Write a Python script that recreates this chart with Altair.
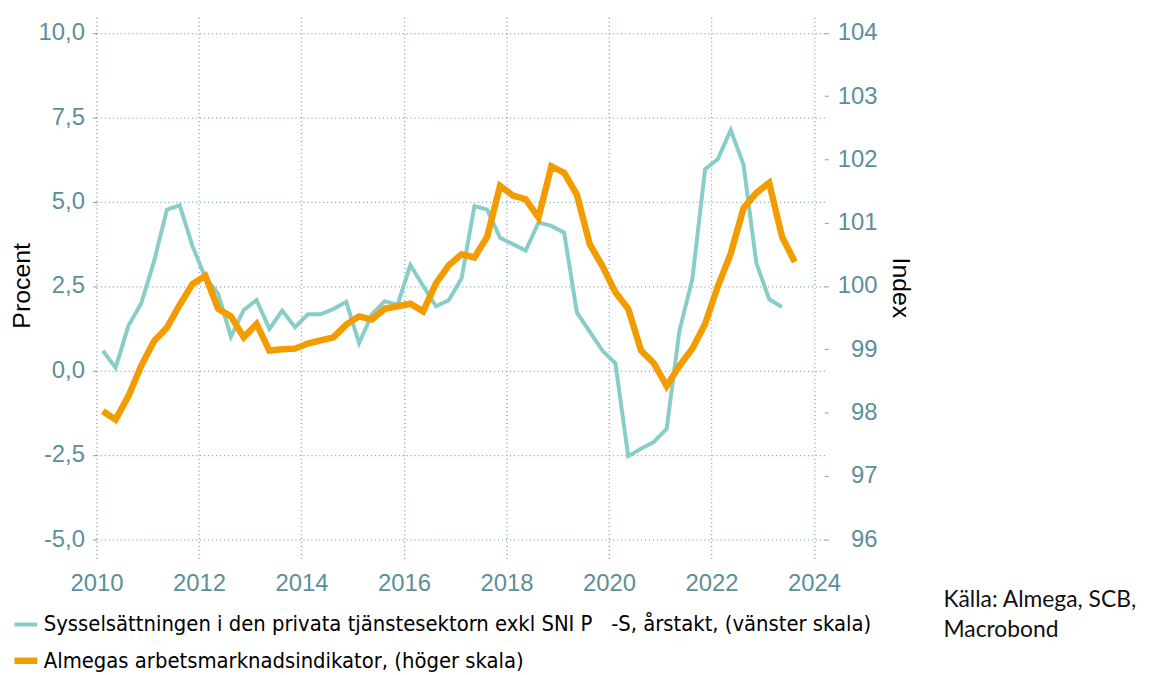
import altair as alt
import pandas as pd

# ---- data ----
series_names = [
    "Sysselsättningen i den privata tjänstesektorn exkl SNI P\u00a0\u00a0\u00a0-S, årstakt, (vänster skala)",
    "Almegas arbetsmarknadsindikator, (höger skala)",
]
start_year = 2010

# quarterly, % y/y, left scale (2010Q1 .. 2023Q2)
sysselsattning = [
    0.58, 0.08, 1.32, 1.99,
    3.23, 4.76, 4.89, 3.68,
    2.75, 2.27, 1.00, 1.79,
    2.08, 1.23, 1.77, 1.28,
    1.66, 1.66, 1.82, 2.03,
    0.81, 1.66, 2.05, 1.94,
    3.12, 2.50, 1.90, 2.08,
    2.73, 4.87, 4.76, 3.93,
    3.74, 3.55, 4.38, 4.28,
    4.08, 1.71, 1.15, 0.58,
    0.21, -2.54, -2.32, -2.12,
    -1.73, 1.18, 2.69, 5.96,
    6.26, 7.12, 6.09, 3.18,
    2.11, 1.88,
]

# quarterly index, right scale (2010Q1 .. 2023Q3)
almega_index = [
    98.02, 97.89, 98.26, 98.74,
    99.13, 99.34, 99.70, 100.03,
    100.16, 99.64, 99.52, 99.19,
    99.40, 98.98, 99.00, 99.01,
    99.09, 99.14, 99.19, 99.39,
    99.52, 99.47, 99.64, 99.68,
    99.72, 99.60, 100.04, 100.33,
    100.50, 100.45, 100.78, 101.58,
    101.43, 101.37, 101.08, 101.89,
    101.79, 101.44, 100.66, 100.31,
    99.90, 99.64, 98.98, 98.78,
    98.42, 98.74, 99.01, 99.40,
    100.00, 100.51, 101.23, 101.47,
    101.63, 100.78, 100.38,
]

left_ticks = [-5.0, -2.5, 0.0, 2.5, 5.0, 7.5, 10.0]
right_ticks = [96, 97, 98, 99, 100, 101, 102, 103, 104]
x_ticks = [2010, 2012, 2014, 2016, 2018, 2020, 2022, 2024]
source_text = "Källa: Almega, SCB,\nMacrobond"
left_title = "Procent"
right_title = "Index"


def quarter_frame(values, name):
    labels = [f"{start_year + i // 4}Q{i % 4 + 1}" for i in range(len(values))]
    pos = [int(l[:4]) + (int(l[-1]) - 0.5) / 4 for l in labels]
    return pd.DataFrame({"kvartal": labels, "t": pos, "v": values, "serie": name})


df_teal = quarter_frame(sysselsattning, series_names[0])
df_orange = quarter_frame(almega_index, series_names[1])

TEAL = "#88cdc8"
ORANGE = "#f39c00"
AXIS_COL = "#5b8f99"
GRID_COL = "#7ea3ab"
FONT = "Liberation Sans"
NARROW = "Liberation Sans Narrow, Arial Narrow, DejaVu Sans Condensed, sans-serif"

x_scale = alt.Scale(domain=[2010, 2024.2], nice=False, zero=False)
left_scale = alt.Scale(domain=[-5.63, 10.46], nice=False, zero=False)
right_scale = alt.Scale(domain=[95.664, 104.245], nice=False, zero=False)

color_scale = alt.Scale(domain=series_names, range=[TEAL, ORANGE])
width_scale = alt.Scale(domain=series_names, range=[4, 6.5])

legend = alt.Legend(
    title=None, orient="none", legendX=-86, legendY=598, direction="vertical",
    symbolType="stroke", symbolSize=529, symbolStrokeWidth=4,
    labelFont=NARROW, labelFontSize=22, labelColor="black", labelLimit=1500,
    labelOffset=3, rowPadding=10,
)

x_enc = alt.X(
    "t:Q", scale=x_scale, title=None,
    axis=alt.Axis(
        values=x_ticks, format="d", grid=True, gridDash=[1, 3], gridColor=GRID_COL,
        gridWidth=1.3, ticks=False, tickSize=0, domain=False,
        labelFont=FONT, labelFontSize=24, labelColor=AXIS_COL,
        labelBaseline="alphabetic", labelPadding=30, labelFlush=False,
    ),
)

teal = alt.Chart(df_teal).mark_line(strokeJoin="miter", strokeCap="butt").encode(
    x=x_enc,
    y=alt.Y(
        "v:Q", scale=left_scale,
        axis=alt.Axis(
            orient="left", values=left_ticks,
            labelExpr="replace(replace(format(datum.value, '.1f'), '.', ','), '\u2212', '-')",
            grid=True, gridDash=[1, 3], gridColor=GRID_COL, gridWidth=1.3,
            domain=False, ticks=True, tickSize=7, tickColor=GRID_COL, tickDash=[4, 3],
            labelFont=FONT, labelFontSize=24, labelColor=AXIS_COL, labelPadding=5,
            title=left_title, titleFont=FONT, titleFontSize=25, titleFontWeight="normal",
            titleColor="black", titleX=-75, titleY=270, titleAngle=270,
            titleAlign="center", titleBaseline="middle",
        ),
    ),
    color=alt.Color("serie:N", scale=color_scale, legend=legend, sort=series_names),
    strokeWidth=alt.StrokeWidth("serie:N", scale=width_scale, legend=None),
)

orange = alt.Chart(df_orange).mark_line(strokeJoin="miter", strokeCap="butt").encode(
    x=x_enc,
    y=alt.Y(
        "v:Q", scale=right_scale,
        axis=alt.Axis(
            orient="right", values=right_ticks, format="d", grid=False,
            domain=False, ticks=True, tickSize=7, tickColor=GRID_COL, tickDash=[4, 3],
            labelFont=FONT, labelFontSize=24, labelColor=AXIS_COL,
            labelAlign="right", labelPadding=46,
            title=right_title, titleFont=FONT, titleFontSize=25, titleFontWeight="normal",
            titleColor="black", titleX=77, titleY=272, titleAngle=90,
            titleAlign="center", titleBaseline="middle",
        ),
    ),
    color=alt.Color("serie:N", scale=color_scale, legend=legend, sort=series_names),
    strokeWidth=alt.StrokeWidth("serie:N", scale=width_scale, legend=None),
)

source = alt.Chart(pd.DataFrame({"txt": [source_text]})).mark_text(
    align="left", baseline="alphabetic", font="Lato", fontSize=23,
    color="#111111", lineBreak="\n", lineHeight=30,
).encode(text="txt:N", x=alt.value(853), y=alt.value(594))

chart = (
    alt.layer(teal, orange, source)
    .resolve_scale(y="independent")
    .properties(
        width=733, height=547,
        autosize=alt.AutoSizeParams(type="none"),
        padding={"left": 89, "top": 7, "right": 325, "bottom": 113},
        background="white",
    )
    .configure_view(stroke=None)
)

chart.save("out.html", embed_options={"renderer": "svg", "actions": False})
